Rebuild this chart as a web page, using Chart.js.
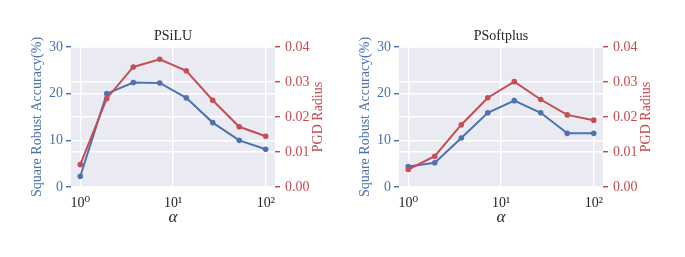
<!DOCTYPE html>
<html>
<head>
<meta charset="utf-8">
<script src="https://cdn.jsdelivr.net/npm/chart.js@4.4.0/dist/chart.umd.min.js"></script>
<style>
  html, body { margin: 0; padding: 0; background: #fff; }
  #wrap { position: relative; width: 685px; height: 257px; overflow: hidden; }
  canvas { position: absolute; top: 0; }
</style>
</head>
<body>
<div id="wrap">
  <canvas id="psilu" width="340" height="257" style="left:0"></canvas>
  <canvas id="softplus" width="340" height="257" style="left:328px"></canvas>
</div>
<script>
// alpha values (log-spaced from 1 to 100)
const alphas = [1, 1.93, 3.73, 7.2, 13.9, 26.8, 51.8, 100];

const psiluAcc = [2.3, 20.0, 22.4, 22.3, 19.1, 13.8, 10.0, 8.1];
const psiluRadius = [0.0064, 0.0253, 0.0343, 0.0365, 0.0332, 0.0248, 0.0172, 0.0145];

const softplusAcc = [4.4, 5.2, 10.5, 15.9, 18.5, 15.9, 11.5, 11.5];
const softplusRadius = [0.0050, 0.0088, 0.0178, 0.0255, 0.0301, 0.0250, 0.0206, 0.0191];

const xTicks = [1, 10, 100];
const xTickLabels = ['10\u2070', '10\u00B9', '10\u00B2'];

const BLUE = '#4c72b0';
const RED = '#c44e52';
const TEXT = '#262626';
const FONT = "'Liberation Serif', 'DejaVu Serif', serif";

// seaborn-ish background plus the axis titles (drawn by hand so the
// right label reads bottom-to-top like matplotlib)
const frame = {
    id: 'frame',
    beforeDraw(chart) {
        const { ctx, chartArea: a } = chart;
        ctx.save();
        ctx.fillStyle = '#eaeaf2';
        ctx.fillRect(a.left, a.top, a.right - a.left, a.bottom - a.top);
        ctx.restore();
    },
    afterDraw(chart, args, opts) {
        const { ctx, chartArea: a } = chart;
        const cx = (a.left + a.right) / 2;
        const cy = (a.top + a.bottom) / 2;
        ctx.save();
        ctx.textAlign = 'center';
        ctx.textBaseline = 'alphabetic';
        ctx.fillStyle = TEXT;
        ctx.font = '14px ' + FONT;
        ctx.fillText(opts.title, cx, a.top - 7);
        ctx.font = 'italic 17px ' + FONT;
        ctx.fillText('\u03B1', cx, a.bottom + 35);

        ctx.font = '14px ' + FONT;
        ctx.textBaseline = 'middle';
        ctx.save();
        ctx.fillStyle = BLUE;
        ctx.translate(a.left - 34, cy);
        ctx.rotate(-Math.PI / 2);
        ctx.fillText('Square Robust Accuracy(%)', 0, 0);
        ctx.restore();

        ctx.save();
        ctx.fillStyle = RED;
        ctx.translate(a.right + 43, cy);
        ctx.rotate(-Math.PI / 2);
        ctx.fillText('PGD Radius', 0, 0);
        ctx.restore();
        ctx.restore();
    }
};

function buildChart(id, title, acc, radius) {
    const ctx = document.getElementById(id).getContext('2d');
    const tickFont = { family: FONT, size: 14 };

    return new Chart(ctx, {
        type: 'line',
        data: {
            datasets: [
                {
                    data: alphas.map((x, i) => ({ x: x, y: acc[i] })),
                    yAxisID: 'y',
                    borderColor: BLUE,
                    backgroundColor: BLUE,
                    borderWidth: 2,
                    pointRadius: 2.8,
                    pointBorderWidth: 0,
                    tension: 0,
                    order: 1
                },
                {
                    data: alphas.map((x, i) => ({ x: x, y: radius[i] })),
                    yAxisID: 'y1',
                    borderColor: RED,
                    backgroundColor: RED,
                    borderWidth: 2,
                    pointRadius: 2.8,
                    pointBorderWidth: 0,
                    tension: 0,
                    order: 0
                }
            ]
        },
        options: {
            responsive: false,
            animation: false,
            layout: { padding: { top: 47, left: 0, right: 0, bottom: 0 } },
            plugins: {
                legend: { display: false },
                tooltip: { enabled: false },
                frame: { title: title }
            },
            scales: {
                x: {
                    type: 'logarithmic',
                    min: 0.794,
                    max: 125.9,
                    afterBuildTicks: s => { s.ticks = xTicks.map(v => ({ value: v })); },
                    afterFit: s => { s.height = 70; },
                    grid: { color: '#ffffff', lineWidth: 1.4, drawTicks: false },
                    border: { display: false },
                    ticks: {
                        autoSkip: false,
                        maxRotation: 0,
                        padding: 8,
                        color: TEXT,
                        font: tickFont,
                        callback: (v, i) => xTickLabels[i]
                    }
                },
                y: {
                    position: 'left',
                    min: 0,
                    max: 30,
                    afterFit: s => { s.width = 71; },
                    grid: { color: '#ffffff', lineWidth: 1.4, tickColor: BLUE, tickLength: 5, tickWidth: 1.5 },
                    border: { display: false },
                    ticks: { stepSize: 10, padding: 3, color: BLUE, font: tickFont }
                },
                y1: {
                    position: 'right',
                    min: 0,
                    max: 0.04,
                    afterFit: s => { s.width = 65; },
                    grid: { color: '#ffffff', lineWidth: 1.4, tickColor: RED, tickLength: 5, tickWidth: 1.5 },
                    border: { display: false },
                    ticks: {
                        stepSize: 0.01,
                        padding: 5,
                        color: RED,
                        font: tickFont,
                        callback: v => v.toFixed(2)
                    }
                }
            }
        },
        plugins: [frame]
    });
}

buildChart('psilu', 'PSiLU', psiluAcc, psiluRadius);
buildChart('softplus', 'PSoftplus', softplusAcc, softplusRadius);
</script>
</body>
</html>
